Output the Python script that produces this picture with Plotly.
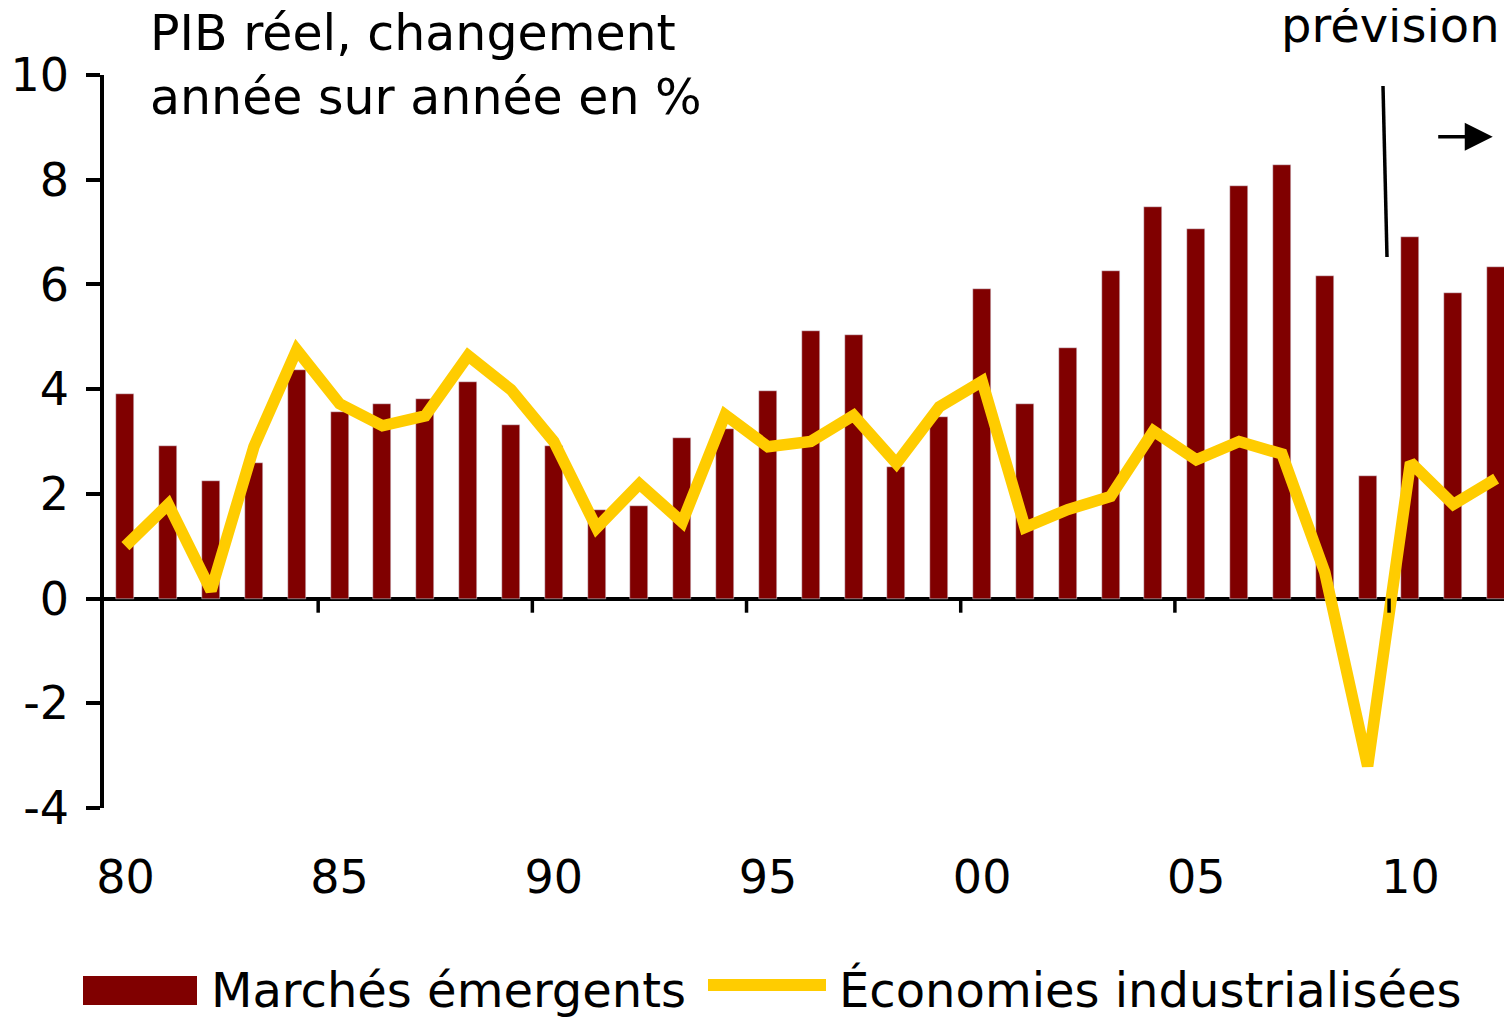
import plotly.graph_objects as go

# Données
years = list(range(1980, 2013))
emerging = [3.9, 2.92, 2.25, 2.58, 4.37, 3.57, 3.72, 3.82, 4.14, 3.32,
            2.92, 1.7, 1.77, 3.07, 3.24, 3.97, 5.11, 5.04, 2.52, 3.47,
            5.92, 3.72, 4.79, 6.26, 7.48, 7.06, 7.88, 8.28, 6.16, 2.35,
            6.91, 5.84, 6.34]
industrial = [1.0, 1.8, 0.15, 2.9, 4.75, 3.72, 3.3, 3.49, 4.64, 3.99,
              3.0, 1.35, 2.19, 1.46, 3.51, 2.9, 3.0, 3.5, 2.58, 3.66,
              4.15, 1.36, 1.7, 1.95, 3.2, 2.65, 3.0, 2.76, 0.5, -3.2,
              2.6, 1.8, 2.29]
tick_years = [1980, 1985, 1990, 1995, 2000, 2005, 2010]
tick_text = ['80', '85', '90', '95', '00', '05', '10']
y_ticks = [-4, -2, 0, 2, 4, 6, 8, 10]
y_text = ['-4', '-2', '0', '2', '4', '6', '8', '10']
minor_ticks = [1984.5, 1989.5, 1994.5, 1999.5, 2004.5, 2009.5]

OFF = 8                      # marge du <body> de la page
W, H = 1512 - OFF, 1018 - OFF
L, R, T = 104 - OFF, 0, 75 - OFF
B = H - (808 - OFF)
FONT = 'DejaVu Sans'
DARK_RED = '#800000'
YELLOW = '#FFCC00'


def px_x(p):
    return (p - OFF - L) / (W - L - R)


def px_y(p):
    return (H - B - (p - OFF)) / (H - T - B)


fig = go.Figure()
fig.add_trace(go.Bar(x=years, y=emerging, width=0.42, marker_color=DARK_RED,
                     name='Marchés émergents'))
fig.add_trace(go.Scatter(x=years, y=industrial, mode='lines',
                         line=dict(color=YELLOW, width=11.5),
                         name='Économies industrialisées'))

# petits traits sur la ligne du zéro
for t in minor_ticks:
    fig.add_shape(type='line', xref='x', yref='y', x0=t, x1=t, y0=0, y1=-0.27,
                  line=dict(color='black', width=3.5))

# légende dessinée à la main
fig.add_shape(type='rect', xref='paper', yref='paper',
              x0=px_x(83), x1=px_x(197), y0=px_y(1005), y1=px_y(976),
              fillcolor=DARK_RED, line_width=0)
fig.add_shape(type='line', xref='paper', yref='paper',
              x0=px_x(708), x1=px_x(826), y0=px_y(985), y1=px_y(985),
              line=dict(color=YELLOW, width=12))
fig.add_annotation(xref='paper', yref='paper', x=px_x(209), y=px_y(990),
                   text='Marchés émergents', showarrow=False,
                   xanchor='left', yanchor='middle', font=dict(size=48))
fig.add_annotation(xref='paper', yref='paper', x=px_x(837), y=px_y(990),
                   text='Économies industrialisées', showarrow=False,
                   xanchor='left', yanchor='middle', font=dict(size=48))

# titre et prévision
fig.add_annotation(xref='paper', yref='paper', x=px_x(148), y=px_y(65),
                   text='PIB réel, changement<br>année sur année en %',
                   showarrow=False, xanchor='left', yanchor='middle', align='left',
                   font=dict(size=49))
fig.add_annotation(xref='paper', yref='paper', x=px_x(1502), y=px_y(25),
                   text='prévision', showarrow=False, xanchor='right',
                   yanchor='middle', font=dict(size=48))
fig.add_shape(type='line', xref='paper', yref='paper',
              x0=px_x(1383), x1=px_x(1387), y0=px_y(86), y1=px_y(257),
              line=dict(color='black', width=3.5))
fig.add_annotation(x=2011.92, y=8.82, ax=-56, ay=0, text='', showarrow=True,
                   arrowhead=2, arrowsize=1.6, arrowwidth=3.5, arrowcolor='black')

fig.update_layout(
    width=W, height=H,
    margin=dict(l=L, r=R, t=T, b=B),
    plot_bgcolor='white', paper_bgcolor='white',
    showlegend=False,
    font=dict(family=FONT, size=46, color='black'),
    bargap=0,
)
fig.update_xaxes(range=[1979.5, 2012.37], tickvals=tick_years, ticktext=tick_text,
                 showgrid=False, showline=False, zeroline=False, ticks='',
                 ticklabelstandoff=38, tickfont=dict(size=46))
fig.update_yaxes(range=[-4, 10], tickvals=y_ticks, ticktext=y_text, showgrid=False,
                 showline=True, linecolor='black', linewidth=3.5,
                 ticks='outside', ticklen=14, tickwidth=3.5, tickcolor='black',
                 zeroline=True, zerolinecolor='black', zerolinewidth=3.5,
                 ticklabelstandoff=8, tickfont=dict(size=46))

fig.write_html('out.html')
